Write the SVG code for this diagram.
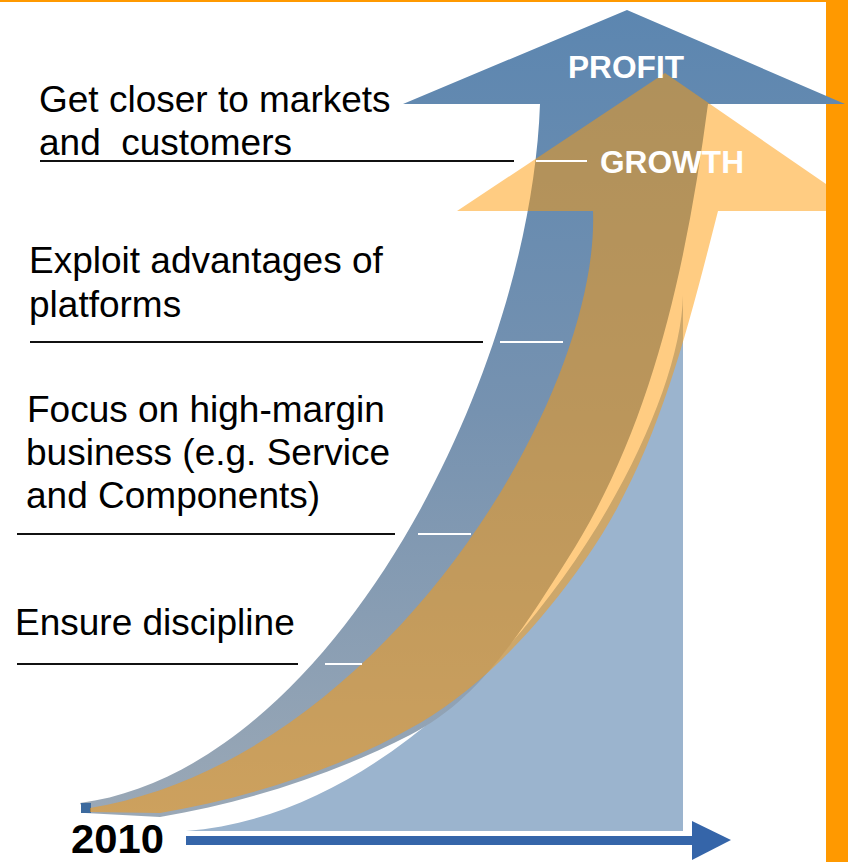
<svg xmlns="http://www.w3.org/2000/svg" width="848" height="862" viewBox="0 0 848 862">
  <defs>
    <linearGradient id="blueGrad" gradientUnits="userSpaceOnUse" x1="0" y1="10" x2="0" y2="815">
      <stop offset="0" stop-color="#5C86B0"/>
      <stop offset="0.5" stop-color="#7692B0"/>
      <stop offset="1" stop-color="#9AA8B6"/>
    </linearGradient>
  </defs>
  <style>
    .label { font-family: "Liberation Sans", Arial, sans-serif; font-size: 37px; fill: #000000; }
    .arrowlabel { font-family: "Liberation Sans", Arial, sans-serif; font-size: 32px; font-weight: bold; fill: #FFFFFF; }
    .year { font-family: "Liberation Sans", Arial, sans-serif; font-size: 41px; font-weight: bold; fill: #000000; }
    .rule { stroke: #111111; stroke-width: 2; fill: none; }
    .tick { stroke: #FFFFFF; stroke-width: 2; fill: none; }
  </style>
  <rect x="0" y="0" width="848" height="862" fill="#FFFFFF"/>

  <!-- top border and right bar -->
  <rect x="0" y="0" width="826" height="2" fill="#FF9900"/>
  <rect x="826" y="0" width="22" height="862" fill="#FF9900"/>

  <!-- light blue area under curve -->
  <g id="area">
    <path d="M683,295 L683,831 L186,831 C460,810 680,450 683,295 Z" fill="#9BB4CE"/>
  </g>

  <!-- timeline arrow -->
  <g id="timeline">
    <rect x="186" y="836" width="507" height="9" fill="#3565A9"/>
    <polygon points="692,821 731,840 692,860" fill="#3565A9"/>
  </g>

  <!-- PROFIT arrow -->
  <g id="profit-arrow">
    <path d="M540,104 L403,104 L627,10 L845,104 L708,104 C687,262 653,426 567,560 C525,626 480,700 410,735 C332,775 247,802 160,817 L85,813 L80,803 C330,770 530,380 540,104 Z" fill="url(#blueGrad)"/>
    <rect x="81" y="803" width="10" height="10" fill="#3C6A9E"/>
  </g>

  <!-- GROWTH arrow -->
  <g id="growth-arrow">
    <path d="M593,211 L457,211 L665,73 L826,184 L826,211 L718,211 C687,332 657,458 585,560 C541,623 486,684 420,723 C341,769 251,797 160,813 L90,812 L90,808 C380,760 600,400 593,211 Z" fill="#FF9906" fill-opacity="0.5"/>
  </g>

  <!-- leader lines -->
  <g id="connectors">
    <line class="rule" x1="40" y1="161" x2="514" y2="161"/>
    <line class="tick" x1="536" y1="161" x2="587" y2="161"/>
    <line class="rule" x1="30" y1="342" x2="483" y2="342"/>
    <line class="tick" x1="500" y1="342" x2="563" y2="342"/>
    <line class="rule" x1="17" y1="534" x2="395" y2="534"/>
    <line class="tick" x1="418" y1="534" x2="471" y2="534"/>
    <line class="rule" x1="17" y1="664" x2="298" y2="664"/>
    <line class="tick" x1="325" y1="664" x2="362" y2="664"/>
  </g>

  <!-- labels -->
  <g id="label-profit">
    <text class="arrowlabel" x="568" y="78" textLength="116" lengthAdjust="spacingAndGlyphs">PROFIT</text>
  </g>
  <g id="label-growth">
    <text class="arrowlabel" x="600" y="173" textLength="144" lengthAdjust="spacingAndGlyphs">GROWTH</text>
  </g>
  <g id="label-markets">
    <text class="label" x="39" y="112">Get closer to markets</text>
    <text class="label" x="39" y="155" xml:space="preserve">and  customers</text>
  </g>
  <g id="label-platforms">
    <text class="label" x="29" y="273">Exploit advantages of</text>
    <text class="label" x="29" y="317">platforms</text>
  </g>
  <g id="label-focus">
    <text class="label" x="27" y="422">Focus on high-margin</text>
    <text class="label" x="26" y="465">business (e.g. Service</text>
    <text class="label" x="26" y="508">and Components)</text>
  </g>
  <g id="label-discipline">
    <text class="label" x="15" y="635">Ensure discipline</text>
  </g>
  <g id="label-year">
    <text class="year" x="71" y="853" textLength="93" lengthAdjust="spacingAndGlyphs">2010</text>
  </g>
</svg>
